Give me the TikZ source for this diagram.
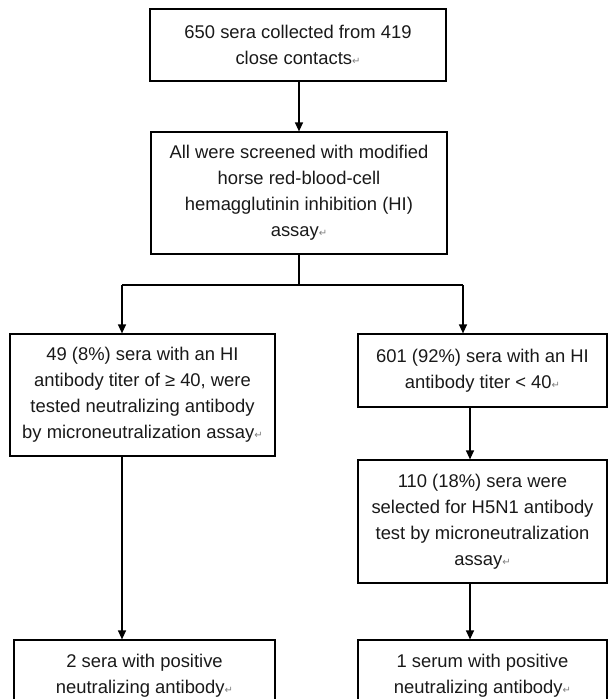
\documentclass[tikz,border=0pt]{standalone}
\usepackage{fontspec}
\setmainfont{Liberation Sans}
\newfontfamily\symfont{DejaVu Sans}
\usetikzlibrary{arrows.meta}
\newcommand\retmark{{\symfont\fontsize{10}{10}\selectfont\color{gray}↵}}
\tikzset{
  box/.style={draw=black, line width=1.2pt, inner sep=0pt, align=center, text=black!90,
    font=\fontsize{18.4}{26}\selectfont},
  link/.style={draw=black, line width=1.2pt},
  arr/.style={link, -{Triangle[length=9pt,width=8pt]}}
}
\begin{document}
\begin{tikzpicture}[x=1pt,y=-1pt]
\useasboundingbox (0,0) rectangle (611,699);
\node[box, minimum width=296pt, minimum height=72pt] (top) at (298,45)
  {650 sera collected from 419\\close contacts\retmark};
\node[box, minimum width=296pt, minimum height=122pt] (scr) at (299,193)
  {All were screened with modified\\horse red-blood-cell\\hemagglutinin inhibition (HI)\\assay\retmark};
\node[box, minimum width=265pt, minimum height=122pt] (left) at (142.5,395)
  {49 (8\%) sera with an HI\\antibody titer of ≥ 40, were\\tested neutralizing antibody\\by microneutralization assay\retmark};
\node[box, minimum width=249pt, minimum height=73pt] (ra) at (482.5,370.5)
  {601 (92\%) sera with an HI\\antibody titer < 40\retmark};
\node[box, minimum width=249pt, minimum height=123pt] (rb) at (482.5,521.5)
  {110 (18\%) sera were\\selected for H5N1 antibody\\test by microneutralization\\assay\retmark};
\node[box, minimum width=261pt, minimum height=72pt] (bl) at (144.5,676)
  {2 sera with positive\\neutralizing antibody\retmark};
\node[box, minimum width=249pt, minimum height=72pt] (br) at (482.5,676)
  {1 serum with positive\\neutralizing antibody\retmark};
\coordinate (jL) at (122,285);
\coordinate (jR) at (463,285);
\coordinate (cR) at (470,0);
\draw[arr] (top.south -| scr.south) -- (scr.north);
\draw[link] (scr.south) -- (scr.south |- jL);
\draw[link] (jL) -- (jR);
\draw[arr] (jL) -- (jL |- left.north);
\draw[arr] (jR) -- (jR |- ra.north);
\draw[arr] (ra.south -| cR) -- (rb.north -| cR);
\draw[arr] (rb.south -| cR) -- (br.north -| cR);
\draw[arr] (left.south -| jL) -- (bl.north -| jL);
\end{tikzpicture}
\end{document}
